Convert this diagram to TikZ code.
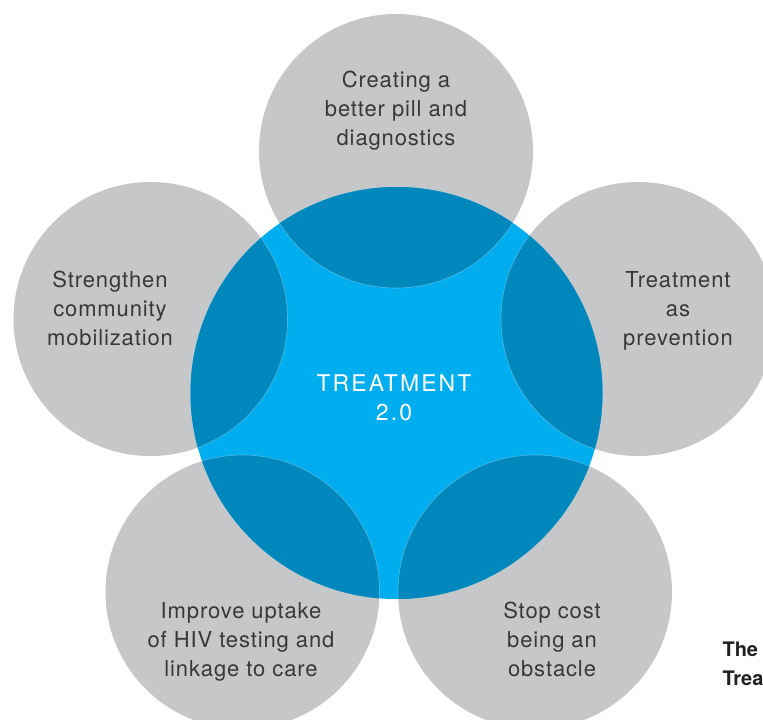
\documentclass[tikz,border=0pt]{standalone}
\usepackage{fontspec}
\setmainfont{TeX Gyre Heros}
\newfontfamily\petalfont[LetterSpace=4]{TeX Gyre Heros}
\newfontfamily\corefont[LetterSpace=9]{TeX Gyre Heros}
\usepackage{tikz}
\definecolor{petalgray}{HTML}{C6C7C9}
\definecolor{coreblue}{HTML}{00AEEF}
\definecolor{overlapblue}{HTML}{0088BC}
\definecolor{inkgray}{HTML}{38383A}
\definecolor{inkblack}{HTML}{231F20}

\begin{document}
\begin{tikzpicture}[x=1pt,y=-1pt,
		petal text/.style = {align=center,anchor=base,text=inkgray,
			font=\petalfont\fontsize{22}{29}\selectfont},
		core text/.style = {align=center,anchor=base,text=white,
			font=\corefont\fontsize{23}{29}\selectfont},
		side text/.style = {align=left,anchor=base west,text=inkblack,
			font=\bfseries\fontsize{20}{29}\selectfont}]
			\useasboundingbox (0,0) rectangle (763,720);
			\clip (0,0) rectangle (763,720);
			% centres of the circles
			\coordinate (core) at (396.5,393);
			\coordinate (top) at (396,151);
			\coordinate (left) at (150.5,319);
			\coordinate (right) at (638,319);
			\coordinate (lowleft) at (242.5,592);
			\coordinate (lowright) at (535,592);
			% grey petals
			\foreach \c in {top,left,right,lowleft,lowright}
				\fill[petalgray] (\c) circle (137pt);
			% blue core
			\fill[coreblue] (core) circle (206pt);
			% overlaps
			\begin{scope}
				\clip (core) circle (206pt);
				\foreach \c in {top,left,right,lowleft,lowright}
					\fill[overlapblue] (\c) circle (137pt);
				\foreach \c in {top,left,right,lowleft,lowright}
					\draw[white,opacity=0.3,line width=0.6pt] (\c) circle (137pt);
			\end{scope}
			% labels (anchored on the last line)
			\node[petal text] at (396,145) (toptext) {Creating a\\better pill and\\diagnostics};
			\node[petal text] at (110,345) (lefttext) {Strengthen\\community\\mobilization};
			\node[petal text] at (678,345) (righttext) {Treatment\\as\\prevention};
			\node[petal text] at (241,676) (lowlefttext) {Improve uptake\\of HIV testing and\\linkage to care};
			\node[petal text] at (552,676) (lowrighttext) {Stop cost\\being an\\obstacle};
			\node[core text] at (394,420) (coretext) {TREATMENT\\2.0};
			\node[side text] at (719,685) (sidetext) {The\\Trea};
		\end{tikzpicture}
\end{document}
